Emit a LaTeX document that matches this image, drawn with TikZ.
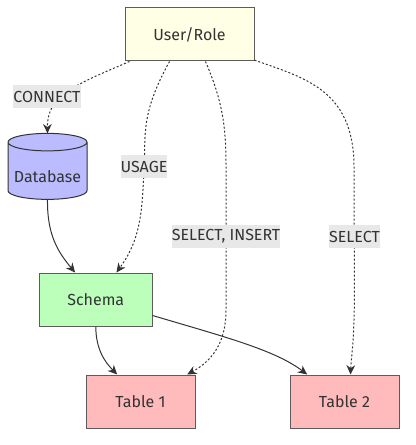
\documentclass[tikz,border=0pt]{standalone}
\usepackage{fontspec}
\setmainfont{Fira Sans}
\usetikzlibrary{shapes.geometric,arrows.meta}
\definecolor{inkgrey}{HTML}{333333}
\definecolor{labelgrey}{HTML}{E8E8E8}
\definecolor{rolefill}{HTML}{FFFFE6}
\definecolor{dbfill}{HTML}{BBBBFF}
\definecolor{schemafill}{HTML}{BBFFBB}
\definecolor{tablefill}{HTML}{FFBBBB}

\begin{document}
\begin{tikzpicture}[x=0.75pt,y=-0.75pt,
  every node/.style={text=inkgrey,font=\fontsize{12}{14}\selectfont},
  box/.style={draw=inkgrey!80,line width=0.75pt,minimum height=39.75pt,inner sep=0pt},
  grant/.style={draw=inkgrey,line width=0.75pt,dash pattern=on 1.5pt off 1.5pt,-{Stealth[length=7pt,width=6.5pt]}},
  owns/.style={draw=inkgrey,line width=0.75pt,-{Stealth[length=7pt,width=6.5pt]}},
  edgelabel/.style={fill=labelgrey,inner sep=0pt,minimum height=17.25pt}]
\useasboundingbox (0,0) rectangle (415,445);
\node[box,fill=rolefill,minimum width=96.75pt] (role) at (189.5,34.5) {User/Role};
\node[cylinder,shape border rotate=90,aspect=0.26,draw=inkgrey,line width=0.75pt,fill=dbfill,
  minimum width=59.25pt,minimum height=49.5pt,inner sep=0pt,outer sep=0pt] (database) at (47.5,171) {\raisebox{-9pt}[0pt][0pt]{Database}};
\node[box,fill=schemafill,minimum width=84.5pt] (schema) at (95.75,299.5) {Schema};
\node[box,fill=tablefill,minimum width=81.75pt] (table1) at (140.5,401.5) {Table 1};
\node[box,fill=tablefill,minimum width=81.75pt] (table2) at (344.5,401.5) {Table 2};
\draw[grant] ([xshift=-45pt]role.south) .. controls (75,85) and (47,95) .. (database.north);
\draw[grant] ([xshift=-15pt]role.south) .. controls (140,115) and (146,135) .. (144,170)
  .. controls (142,215) and (140,240) .. ([xshift=15.5pt]schema.north);
\draw[grant] ([xshift=12pt]role.south) .. controls (222,100) and (226,125) .. (226,165)
  .. controls (226,225) and (226,270) .. (226,310) .. controls (226,345) and (210,362) .. ([xshift=35pt]table1.north);
\draw[grant] ([yshift=1pt]role.south east) .. controls (305,78) and (353,90) .. (354,165)
  .. controls (354,225) and (355,290) .. (354,320) .. controls (353,350) and (351,360) .. ([xshift=4.5pt]table2.north);
\draw[owns] (database.south) .. controls (47,235) and (58,252) .. ([xshift=-15.5pt]schema.north);
\draw[owns] (schema.south) .. controls (96,350) and (105,362) .. ([xshift=-17.5pt]table1.north);
\draw[owns] ([yshift=-12pt]schema.east) .. controls (225,337) and (275,350) .. ([xshift=-28pt]table2.north);
\node[edgelabel,minimum width=49.5pt] (connect) at (47,96.5) {CONNECT};
\node[edgelabel,minimum width=34.5pt] (usage) at (144,166.5) {USAGE};
\node[edgelabel,minimum width=79.5pt] (selectinsert) at (226,236.5) {SELECT, INSERT};
\node[edgelabel,minimum width=38.25pt] (selectonly) at (354.5,236.5) {SELECT};
\end{tikzpicture}
\end{document}
